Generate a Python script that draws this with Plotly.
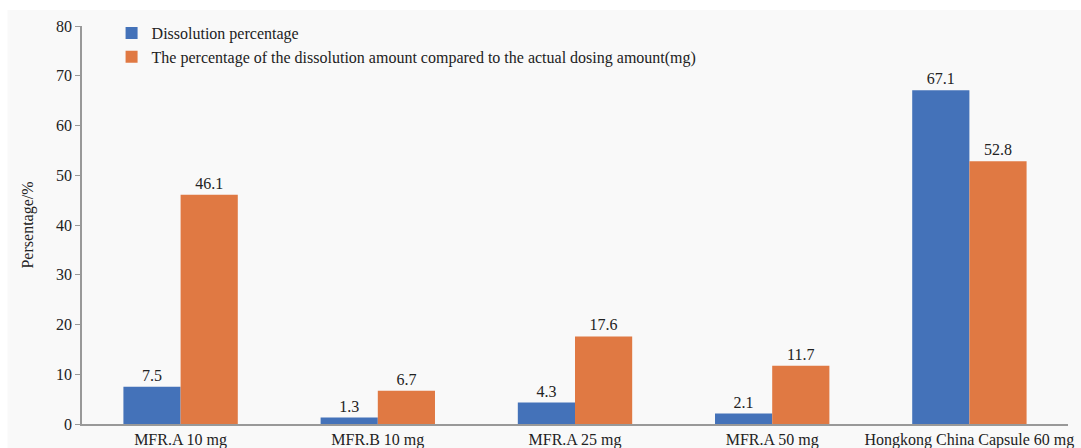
import plotly.graph_objects as go

categories = ["MFR.A 10 mg", "MFR.B 10 mg", "MFR.A 25 mg", "MFR.A 50 mg",
              "Hongkong China Capsule 60 mg"]
dissolution_pct = [7.5, 1.3, 4.3, 2.1, 67.1]
dose_pct = [46.1, 6.7, 17.6, 11.7, 52.8]
series_names = ["Dissolution percentage",
                "The percentage of the dissolution amount compared to the actual dosing amount(mg)"]
y_ticks = [0, 10, 20, 30, 40, 50, 60, 70, 80]

FONT = "Liberation Serif, Times New Roman, serif"
BLUE = "#4472b9"
ORANGE = "#e07943"
FS = 16

fig = go.Figure()
for name, vals, col in [(series_names[0], dissolution_pct, BLUE),
                        (series_names[1], dose_pct, ORANGE)]:
    fig.add_trace(go.Bar(
        x=categories, y=vals, name=name,
        marker=dict(color=col, line=dict(width=0)),
        text=[f"{v:.1f}" for v in vals],
        textposition="outside", cliponaxis=False,
        textfont=dict(family=FONT, size=FS, color="#222"),
    ))

fig.update_layout(
    width=1081, height=448,
    margin=dict(l=82, r=13, t=26, b=24),
    paper_bgcolor="white", plot_bgcolor="rgba(0,0,0,0)",
    barmode="group", bargap=0.42, bargroupgap=0,
    font=dict(family=FONT, size=FS, color="#222"),
    showlegend=True,
    legend=dict(x=0.03, y=1.025, xanchor="left", yanchor="top",
                bgcolor="rgba(0,0,0,0)", font=dict(family=FONT, size=FS, color="#222"),
                itemclick=False, tracegroupgap=0),
    shapes=[dict(type="rect", xref="paper", yref="paper",
                 x0=-0.0756, x1=1.02, y0=-0.07, y1=1.04,
                 fillcolor="#f9f9f9", line=dict(width=0), layer="below")],
)
fig.update_xaxes(showline=True, linecolor="#999", linewidth=1.5, ticks="",
                 automargin=False, ticklabelstandoff=0,
                 tickfont=dict(family=FONT, size=FS, color="#222"), showgrid=False)
fig.update_yaxes(range=[0, 80], tickvals=y_ticks, showline=True, linecolor="#999",
                 linewidth=1.5, ticks="outside", ticklen=5, tickcolor="#999",
                 showgrid=False, zeroline=False, automargin=False,
                 tickfont=dict(family=FONT, size=FS, color="#222"),
                 title=dict(text="Persentage/%", font=dict(family=FONT, size=FS, color="#222"),
                            standoff=18))

fig.write_html("out.html")
